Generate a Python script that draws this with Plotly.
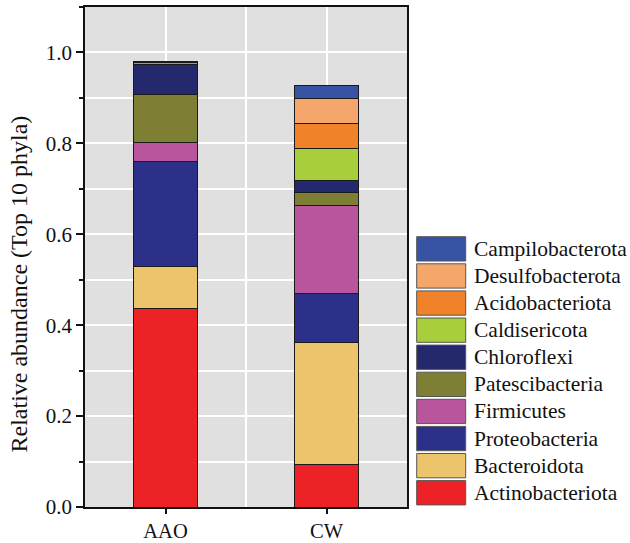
import plotly.graph_objects as go

# ---- data ----
samples = ["AAO", "CW"]
sample_pos = [1, 2]
phyla = ["Actinobacteriota", "Bacteroidota", "Proteobacteria", "Firmicutes",
         "Patescibacteria", "Chloroflexi", "Caldisericota", "Acidobacteriota",
         "Desulfobacterota", "Campilobacterota"]
aao = [0.436, 0.0925, 0.231, 0.0418, 0.1063, 0.0653, 0.0003, 0.0052, 0.0005, 0.0002]
cw = [0.0942, 0.2684, 0.1065, 0.1943, 0.0292, 0.0264, 0.0691, 0.0557, 0.0543, 0.0293]
colors = ["#ED2227", "#EBC46C", "#2C3088", "#B9559D", "#7E7F35",
          "#24286C", "#A8CE3C", "#F0832A", "#F5A76B", "#3953A4"]
y_ticks = [0.0, 0.2, 0.4, 0.6, 0.8, 1.0]

FONT = "Liberation Serif"
W, H = 630, 543
ML, MR, MT, MB = 85, 223, 7, 36
PW, PH = W - ML - MR, H - MT - MB


def px_x(px):
    return (px - ML) / PW


def px_y(py):
    return (H - MB - py) / PH


fig = go.Figure()
for name, a, c, col in zip(phyla, aao, cw, colors):
    fig.add_trace(go.Bar(
        x=sample_pos, y=[a, c], name=name, width=0.393,
        marker=dict(color=col, line=dict(color="#1a1a1a", width=1)),
        showlegend=False,
    ))

# manual legend (top row = last stacked series)
shapes = []
annotations = []
leg_top, row_h, sw_h = 236.7, 27.1, 24.3
for i, (name, col) in enumerate(zip(phyla[::-1], colors[::-1])):
    top = leg_top + i * row_h
    shapes.append(dict(type="rect", xref="paper", yref="paper",
                       x0=px_x(416.7), x1=px_x(465.7),
                       y0=px_y(top + sw_h), y1=px_y(top),
                       fillcolor=col, line=dict(color="#555555", width=1)))
    annotations.append(dict(xref="paper", yref="paper", x=px_x(471.5),
                            y=px_y(top + sw_h / 2), text=name, showarrow=False,
                            xanchor="left", yanchor="middle",
                            font=dict(family=FONT, size=21.5, color="#111111")))

annotations.append(dict(xref="paper", yref="paper", x=px_x(18.5), y=px_y(284),
                        text="Relative abundance (Top 10 phyla)", textangle=-90,
                        showarrow=False, xanchor="center", yanchor="middle",
                        font=dict(family=FONT, size=24, color="#111111")))

fig.update_layout(
    width=W, height=H,
    margin=dict(l=ML, r=MR, t=MT, b=MB, pad=0, autoexpand=False),
    barmode="stack",
    paper_bgcolor="white",
    plot_bgcolor="#E0E0E0",
    shapes=shapes,
    annotations=annotations,
    font=dict(family=FONT, size=21, color="#111111"),
)
fig.update_xaxes(
    range=[0.5, 2.5], tickmode="array", tickvals=sample_pos, ticktext=samples,
    showgrid=True, gridcolor="white", gridwidth=1.5,
    minor=dict(tickmode="array", tickvals=[0.5, 1.5, 2.5], showgrid=True,
               gridcolor="white", gridwidth=1.5, ticks=""),
    ticks="outside", ticklen=5, tickwidth=1.5, tickcolor="#111111",
    showline=True, linecolor="#111111", linewidth=1.5, mirror=True,
    tickfont=dict(family=FONT, size=20.5, color="#111111"), zeroline=False,
    automargin=False,
)
fig.update_yaxes(
    range=[0, 1.1], tickmode="array", tickvals=y_ticks, tickformat=".1f",
    showgrid=True, gridcolor="white", gridwidth=1.5,
    minor=dict(dtick=0.1, tick0=0, showgrid=True, gridcolor="white",
               gridwidth=1.5, ticks="outside", ticklen=4, tickwidth=1.5,
               tickcolor="#111111"),
    ticks="outside", ticklen=7, tickwidth=1.5, tickcolor="#111111",
    showline=True, linecolor="#111111", linewidth=1.5, mirror=True,
    tickfont=dict(family=FONT, size=21, color="#111111"), zeroline=False,
    automargin=False,
)

fig.write_html(
    "out.html",
    config={"displayModeBar": False},
    post_script="document.body.style.margin='0';document.body.style.overflow='hidden';",
)
